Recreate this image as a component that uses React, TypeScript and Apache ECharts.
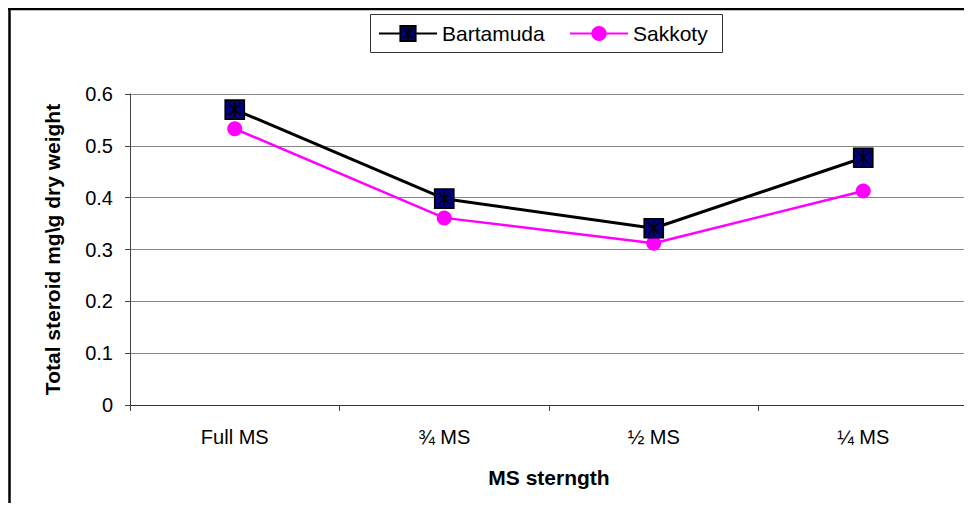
import React, { useEffect, useRef } from "react";
import * as echarts from "echarts";

const categories = ["Full MS", "¾ MS", "½ MS", "¼ MS"];
const bartamuda = [0.57, 0.398, 0.341, 0.477];
const sakkoty = [0.533, 0.361, 0.312, 0.413];
const yTicks = [0, 0.1, 0.2, 0.3, 0.4, 0.5, 0.6];

const FONT = "'Liberation Sans', Arial, sans-serif";
const starSquare =
  "path://M0,0H10V10H0Z M1.8,1.8L8.2,8.2 M8.2,1.8L1.8,8.2 M5,1V9";

export default function App() {
  const ref = useRef<HTMLDivElement>(null);
  useEffect(() => {
    if (!ref.current) return;
    const chart = echarts.init(ref.current, null, { renderer: "svg" });
    const legendText = { fontFamily: FONT, fontSize: 21, color: "#000" };
    chart.setOption({
      animation: false,
      backgroundColor: "#ffffff",
      textStyle: { fontFamily: FONT },
      graphic: [
        {
          type: "line",
          shape: { x1: 8, y1: 9, x2: 972, y2: 9 },
          style: { stroke: "#000", lineWidth: 2.5 },
          silent: true,
        },
        {
          type: "line",
          shape: { x1: 9.5, y1: 8, x2: 9.5, y2: 520 },
          style: { stroke: "#000", lineWidth: 2.5 },
          silent: true,
        },
        {
          type: "rect",
          shape: { x: 370.5, y: 14.5, width: 352, height: 38 },
          style: { fill: "#fff", stroke: "#333", lineWidth: 1 },
          silent: true,
          z: -1,
        },
      ],
      legend: [
        {
          data: ["Bartamuda"],
          left: 378,
          top: 23,
          padding: 0,
          itemWidth: 58,
          itemHeight: 19,
          textStyle: legendText,
        },
        {
          data: ["Sakkoty"],
          left: 569,
          top: 23,
          padding: 0,
          itemWidth: 58,
          itemHeight: 19,
          textStyle: legendText,
        },
      ],
      grid: { left: 130, right: 4, top: 94, bottom: 106 },
      xAxis: {
        type: "category",
        data: categories,
        boundaryGap: true,
        name: "MS sterngth",
        nameLocation: "middle",
        nameGap: 62,
        nameTextStyle: { fontFamily: FONT, fontSize: 21, fontWeight: "bold", color: "#000" },
        axisLine: { lineStyle: { color: "#333", width: 1 } },
        axisTick: { show: true, length: 6, inside: false, lineStyle: { color: "#444" } },
        axisLabel: { fontFamily: FONT, fontSize: 20, color: "#000", margin: 22 },
        splitLine: { show: false },
      },
      yAxis: {
        type: "value",
        min: 0,
        max: 0.6,
        interval: 0.1,
        name: "Total steroid mg\\g dry weight",
        nameLocation: "middle",
        nameGap: 67,
        nameTextStyle: { fontFamily: FONT, fontSize: 21, fontWeight: "bold", color: "#000" },
        axisLine: { show: true, lineStyle: { color: "#444", width: 1 } },
        axisTick: { show: true, length: 5, inside: false, lineStyle: { color: "#444" } },
        axisLabel: {
          fontFamily: FONT,
          fontSize: 20,
          color: "#000",
          margin: 17,
          formatter: (v: number) => {
            const t = yTicks.find((x) => Math.abs(x - v) < 1e-6);
            return t === undefined ? "" : String(t);
          },
        },
        splitLine: { show: true, lineStyle: { color: "#888", width: 1 } },
      },
      series: [
        {
          name: "Bartamuda",
          type: "line",
          data: bartamuda,
          symbol: starSquare,
          symbolSize: 19,
          itemStyle: { color: "#000080", borderColor: "#000", borderWidth: 1.7 },
          lineStyle: { color: "#000", width: 3 },
          z: 3,
        },
        {
          name: "Sakkoty",
          type: "line",
          data: sakkoty,
          symbol: "circle",
          symbolSize: 15,
          itemStyle: { color: "#ff00ff" },
          lineStyle: { color: "#ff00ff", width: 2.5 },
          z: 2,
        },
      ],
    });
    return () => chart.dispose();
  }, []);
  return <div ref={ref} style={{ width: 972, height: 511, margin: -8 }} />;
}
